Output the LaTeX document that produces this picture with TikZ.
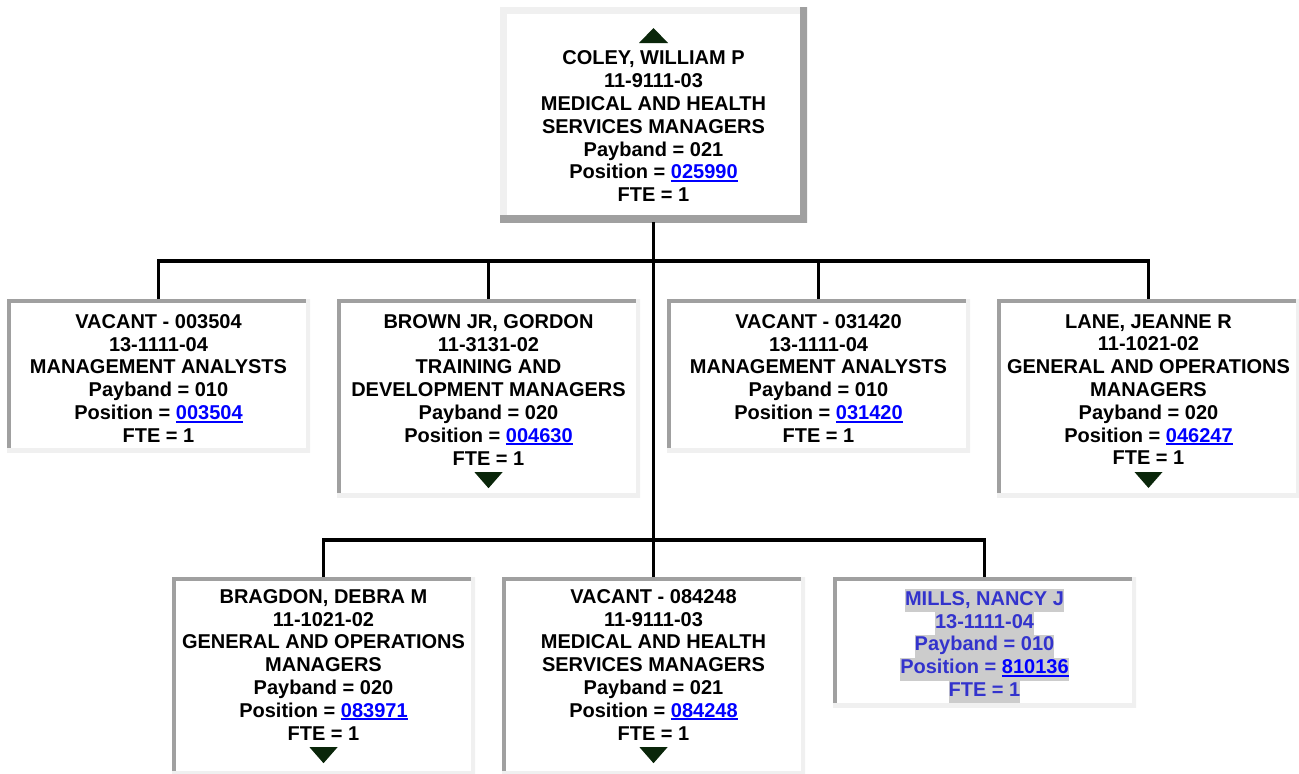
\documentclass[tikz,border=0pt]{standalone}
\usepackage{fontspec}
\setmainfont{Liberation Sans}
\usepackage{xcolor}
\usepackage{tikz}

\definecolor{edgedark}{RGB}{160,160,160}
\definecolor{edgelight}{RGB}{240,240,240}
\definecolor{arrowgreen}{RGB}{10,38,10}
\definecolor{linkblue}{RGB}{0,0,255}
\definecolor{millsblue}{RGB}{51,51,204}
\definecolor{hlgrey}{RGB}{204,204,204}

\newcommand{\poslink}[1]{{\color{linkblue}\setbox0\hbox{#1}\rlap{\rule[-3pt]{\wd0}{2pt}}\box0}}
\newcommand{\hl}[1]{{\fboxsep=0pt\colorbox{hlgrey}{\strut#1}}}

\tikzset{post/.style={rectangle,fill=white,minimum width=303pt,inner sep=0pt,outer sep=0pt,
    path picture={
      \draw[edgedark,line width=8pt] (path picture bounding box.south west) -- (path picture bounding box.north west) -- (path picture bounding box.north east);
      \draw[edgelight,line width=8pt] (path picture bounding box.north east) -- (path picture bounding box.south east) -- (path picture bounding box.south west);}},
  head/.style={rectangle,fill=white,inner sep=0pt,outer sep=0pt,
    path picture={
      \draw[edgelight,line width=14pt] (path picture bounding box.south west) -- (path picture bounding box.north west) -- (path picture bounding box.north east);
      \draw[edgedark,line width=14pt] (path picture bounding box.north east) -- (path picture bounding box.south east) -- (path picture bounding box.south west);}},
  txt/.style={anchor=north,align=center,inner sep=0pt,font=\bfseries\fontsize{20}{22.8}\selectfont,
    execute at begin node=\strut,execute at end node=\strut},
  wire/.style={line width=3.5pt},
  down/.style={fill=arrowgreen}}

\begin{document}
\begin{tikzpicture}[x=1pt,y=-1pt,>=stealth]
    \useasboundingbox (0,0) rectangle (1299,774);

    \node[head,minimum width=307pt,minimum height=215pt] (a)at (653.5,114.5) {};
    \node[post,minimum height=153pt] (b)at (158.5,375.5) {};
    \node[post,minimum height=198pt] (c)at (488.5,398) {};
    \node[post,minimum height=153pt] (d)at (818.5,375.5) {};
    \node[post,minimum height=198pt] (e)at (1148.5,398) {};
    \node[post,minimum height=198pt] (f)at (323.5,676) {};
    \node[post,minimum height=198pt] (g)at (653.5,676) {};
    \node[post,minimum height=130pt] (h)at (984.5,642) {};

    \node[txt] (ta)at ([yshift=-43.7pt]a.north) {COLEY, WILLIAM P\\11-9111-03\\MEDICAL AND HEALTH\\SERVICES MANAGERS\\Payband = 021\\Position = \poslink{025990}\\FTE = 1};
    \node[txt] (tb)at ([yshift=-15.2pt]b.north) {VACANT - 003504\\13-1111-04\\MANAGEMENT ANALYSTS\\Payband = 010\\Position = \poslink{003504}\\FTE = 1};
    \node[txt] (tc)at ([yshift=-15.2pt]c.north) {BROWN JR, GORDON\\11-3131-02\\TRAINING AND\\DEVELOPMENT MANAGERS\\Payband = 020\\Position = \poslink{004630}\\FTE = 1};
    \node[txt] (td)at ([yshift=-15.2pt]d.north) {VACANT - 031420\\13-1111-04\\MANAGEMENT ANALYSTS\\Payband = 010\\Position = \poslink{031420}\\FTE = 1};
    \node[txt] (te)at ([yshift=-15.2pt]e.north) {LANE, JEANNE R\\11-1021-02\\GENERAL AND OPERATIONS\\MANAGERS\\Payband = 020\\Position = \poslink{046247}\\FTE = 1};
    \node[txt] (tf)at ([yshift=-12.2pt]f.north) {BRAGDON, DEBRA M\\11-1021-02\\GENERAL AND OPERATIONS\\MANAGERS\\Payband = 020\\Position = \poslink{083971}\\FTE = 1};
    \node[txt] (tg)at ([yshift=-12.2pt]g.north) {VACANT - 084248\\11-9111-03\\MEDICAL AND HEALTH\\SERVICES MANAGERS\\Payband = 021\\Position = \poslink{084248}\\FTE = 1};
    \node[txt,text=millsblue] (th)at ([yshift=-12.2pt]h.north) {\hl{MILLS, NANCY J}\\\hl{13-1111-04}\\\hl{Payband = 010}\\\hl{Position = \poslink{810136}}\\\hl{FTE = 1}};

    % up / down markers
    \fill[down] ([yshift=7.7pt]ta.north) ++(-14.5,0) -- ++(29,0) -- ++(-14.5,-15) -- cycle;
    \foreach \t in {tc,te,tf,tg}
        \fill[down] (\t.south) ++(-14,0) -- ++(28,0) -- ++(-14,16) -- cycle;

    \coordinate (p)at (a.south |- 0,261);
    \coordinate (q)at (a.south |- 0,540);

    \draw [wire] (a.south) -- (q);
    \draw [wire] (b.north) |- (p) -| (e.north);
    \draw [wire] (c.north) -- (c.north |- p);
    \draw [wire] (d.north) -- (d.north |- p);
    \draw [wire] (f.north) |- (q) -| (h.north);
    \draw [wire] (g.north) -- (q);
\end{tikzpicture}
\end{document}
